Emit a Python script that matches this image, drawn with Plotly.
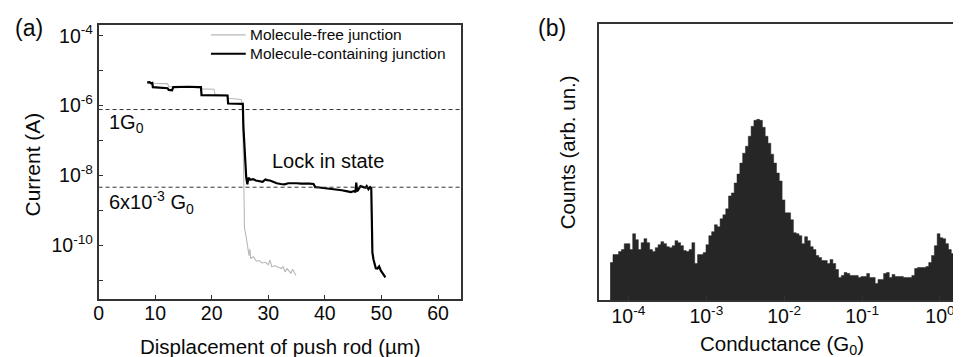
import numpy as np
import plotly.graph_objects as go

# ---------------- Panel (a) data ----------------
free_x = [8.6, 8.9, 9.3, 9.7, 11.0, 12.2, 12.4, 13.0, 14.5, 16.0, 17.9, 18.1, 19.0, 20.4, 20.6,
          22.7, 22.9, 24.5, 25.2, 25.45, 25.55, 25.65, 25.8, 26.05, 26.3, 26.6, 26.75, 26.9,
          27.4, 27.9, 28.4, 28.9, 29.5, 30.0, 30.3, 30.6, 31.2, 31.8, 32.3, 32.6, 33.0, 33.3,
          33.6, 34.0, 34.3, 34.7, 34.9]
free_current = [5.01e-6, 4.79e-6, 4.47e-6, 4.37e-6, 4.27e-6, 4.27e-6, 3.55e-6, 3.47e-6, 3.55e-6,
                3.47e-6, 3.39e-6, 3.02e-6, 2.95e-6, 2.95e-6, 2.00e-6, 2.00e-6, 1.62e-6, 1.58e-6,
                1.51e-6, 1.00e-6, 3.16e-8, 1.00e-9, 3.16e-10, 1.91e-10, 1.00e-10, 5.13e-11,
                7.94e-11, 4.27e-11, 4.79e-11, 3.55e-11, 3.72e-11, 3.16e-11, 3.31e-11, 2.82e-11,
                3.89e-11, 2.51e-11, 2.63e-11, 2.34e-11, 2.19e-11, 2.51e-11, 1.74e-11, 2.19e-11,
                1.91e-11, 1.62e-11, 2.09e-11, 1.66e-11, 1.38e-11]

mol_x = [8.6, 9.0, 9.3, 9.5, 9.6, 10.5, 11.5, 12.2, 12.4, 13.0, 13.2, 14.5, 16.0, 17.5, 18.1,
         18.2, 20.0, 22.0, 22.8, 22.9, 24.5, 25.5, 25.6, 25.8, 26.0, 26.1, 26.3, 26.5, 26.8,
         27.3, 27.8, 28.4, 29.0, 29.5, 29.8, 30.3, 31.0, 31.5, 32.2, 32.9, 33.5, 34.2, 35.0,
         35.8, 36.5, 37.3, 38.0, 38.3, 39.0, 40.0, 41.0, 42.0, 43.0, 44.0, 44.6, 45.2, 45.4,
         45.55, 45.7, 46.0, 46.3, 46.8, 47.2, 47.4, 47.7, 48.0, 48.2, 48.3, 48.4, 48.6, 48.8,
         49.0, 49.3, 49.6, 49.9, 50.3, 50.7]
mol_current = [4.57e-6, 4.68e-6, 4.37e-6, 4.47e-6, 3.39e-6, 3.31e-6, 3.24e-6, 3.16e-6, 2.82e-6,
               2.75e-6, 3.39e-6, 3.47e-6, 3.47e-6, 3.39e-6, 3.39e-6, 2.00e-6, 2.00e-6, 1.95e-6,
               1.95e-6, 1.15e-6, 1.15e-6, 1.12e-6, 2.51e-7, 5.01e-8, 1.26e-8, 8.91e-9, 5.62e-9,
               8.71e-9, 7.59e-9, 7.94e-9, 7.24e-9, 6.92e-9, 6.61e-9, 7.76e-9, 7.41e-9, 7.24e-9,
               6.31e-9, 6.03e-9, 5.75e-9, 5.62e-9, 6.03e-9, 5.89e-9, 6.03e-9, 5.89e-9, 6.03e-9,
               5.89e-9, 5.75e-9, 4.68e-9, 4.57e-9, 4.37e-9, 4.27e-9, 3.98e-9, 3.80e-9, 3.55e-9,
               3.39e-9, 3.63e-9, 3.31e-9, 6.31e-9, 3.55e-9, 4.17e-9, 5.01e-9, 4.68e-9, 4.47e-9,
               5.01e-9, 4.07e-9, 4.68e-9, 4.37e-9, 6.31e-10, 6.31e-11, 3.98e-11, 2.82e-11,
               2.24e-11, 2.19e-11, 2.51e-11, 1.91e-11, 1.51e-11, 1.23e-11]

series_names = ["Molecule-free junction", "Molecule-containing junction"]
series_colors = ["#b8b8b8", "#000000"]
series_widths = [1.1, 2.2]

ref_levels = [7.75e-7, 4.65e-9]          # 1 G0 and 6x10^-3 G0 at the bias used
x_ticks_a = [0, 10, 20, 30, 40, 50, 60]
y_ticks_a = [1e-11, 1e-10, 1e-9, 1e-8, 1e-7, 1e-6, 1e-5, 1e-4]
y_ticktext_a = ["", "10<sup>-10</sup>", "", "10<sup>-8</sup>", "", "10<sup>-6</sup>", "", "10<sup>-4</sup>"]

# ---------------- Panel (b) data ----------------
bin_start_log = -4.235      # log10 of the first bin's left edge (G0)
bin_width_log = 0.0362      # bin width in decades
hist_counts = [38, 46, 46, 49, 51, 57, 57, 51, 67, 61, 51, 58, 62, 58, 51, 49, 53, 56, 59, 57,
               54, 53, 55, 60, 58, 55, 50, 49, 51, 58, 37, 46, 46, 48, 56, 65, 69, 76, 74, 82,
               86, 92, 105, 108, 118, 127, 138, 148, 155, 165, 175, 181, 182, 181, 174, 165, 158,
               147, 138, 128, 120, 101, 88, 88, 81, 68, 67, 65, 57, 64, 60, 54, 51, 45, 43, 40,
               40, 37, 41, 37, 31, 23, 25, 28, 27, 25, 25, 25, 23, 24, 24, 27, 23, 23, 17, 21,
               21, 27, 28, 23, 26, 24, 24, 24, 23, 23, 23, 25, 32, 33, 33, 33, 34, 38, 45, 55,
               67, 63, 62, 57, 51, 47, 60, 67, 77]
x_ticks_b = [1e-4, 1e-3, 1e-2, 1e-1, 1e0]
x_ticktext_b = ["10<sup>-4</sup>", "10<sup>-3</sup>", "10<sup>-2</sup>", "10<sup>-1</sup>", "10<sup>0</sup>"]

edges = 10 ** (bin_start_log + bin_width_log * np.arange(len(hist_counts) + 1))
step_y = hist_counts + [hist_counts[-1]]

FONT = "Arial, 'Liberation Sans', sans-serif"
TXT = "#0a0a0a"
# The page body has an 8 px margin: the figure starts at (8, 8) in the window.
OX, OY = 8, 8
W, H = 961 - OX, 357 - OY


def px(x):
    return (x - OX) / W


def py(y):
    return 1 - (y - OY) / H


fig = go.Figure()
fig.add_trace(go.Scatter(x=free_x, y=free_current, mode="lines", name=series_names[0],
                         line=dict(color=series_colors[0], width=series_widths[0]),
                         showlegend=False, xaxis="x", yaxis="y"))
fig.add_trace(go.Scatter(x=mol_x, y=mol_current, mode="lines", name=series_names[1],
                         line=dict(color=series_colors[1], width=series_widths[1]),
                         showlegend=False, xaxis="x", yaxis="y"))
fig.add_trace(go.Scatter(x=edges, y=step_y, mode="lines", line_shape="hv", fill="tozeroy",
                         fillcolor="#262626", line=dict(color="#262626", width=0.5),
                         showlegend=False, xaxis="x2", yaxis="y2"))

for lvl in ref_levels:
    fig.add_shape(type="line", xref="x", yref="y", x0=0, x1=64, y0=lvl, y1=lvl,
                  line=dict(color="#333333", width=1, dash="4px,3px"))

axis_common = dict(showline=True, linecolor="#333333", linewidth=1.5, showgrid=False,
                   zeroline=False, ticks="inside", ticklen=5, tickcolor="#333333",
                   tickfont=dict(family=FONT, size=19.5, color=TXT))

fig.update_layout(
    width=W, height=H, margin=dict(l=0, r=0, t=0, b=0),
    paper_bgcolor="white", plot_bgcolor="white",
    font=dict(family=FONT, color=TXT),
    xaxis=dict(domain=[px(94), px(458)], range=[0, 64], tickvals=x_ticks_a, mirror=True,
               anchor="y", ticklabelstandoff=-4, **axis_common),
    yaxis=dict(domain=[py(299), py(23)], type="log", range=[-11.54, -3.69],
               tickvals=y_ticks_a, ticktext=y_ticktext_a, mirror=True, anchor="x", **axis_common),
    xaxis2=dict(domain=[px(596.7), 1.0], type="log", range=[-4.383, 0.27], tickvals=x_ticks_b,
                ticktext=x_ticktext_b, mirror=True, anchor="y2", ticklabelstandoff=-2,
                **axis_common),
    yaxis2=dict(domain=[py(300), py(22.3)], range=[0, 277.7], showline=True,
                linecolor="#333333", linewidth=1.5, showgrid=False, zeroline=False,
                showticklabels=False, ticks="", anchor="x2"),
    showlegend=False,
)


def ann(text, x, y, size, xanchor="center", **kw):
    fig.add_annotation(text=text, x=px(x), y=py(y), xref="paper", yref="paper",
                       xanchor=xanchor, yanchor="middle", showarrow=False,
                       font=dict(family=FONT, size=size, color=TXT), **kw)


# legend (drawn in the upper right of panel a)
for i, (name, col, wid) in enumerate(zip(series_names, series_colors, series_widths)):
    yy = 33 + 19 * i
    fig.add_shape(type="line", xref="paper", yref="paper", x0=px(207), x1=px(242),
                  y0=py(yy), y1=py(yy), line=dict(color=col, width=wid))
    ann(name, 244, yy, 15.5, xanchor="left")

ann("(a)", 24, 26, 23)
ann("(b)", 550, 26, 23)
ann("1G<sub>0</sub>", 102, 122, 20, xanchor="left")
ann("6x10<sup>-3</sup> G<sub>0</sub>", 102, 202, 20, xanchor="left")
ann("Lock in state", 266, 160, 20, xanchor="left")
ann("Displacement of push rod (µm)", 276.5, 346, 20.5)
ann("Current (A)", 28, 163.5, 21, textangle=-90)
ann("Conductance (G<sub>0</sub>)", 781, 345, 20.5)
ann("Counts (arb. un.)", 565, 151, 20.5, textangle=-90)

fig.write_html("out.html")
